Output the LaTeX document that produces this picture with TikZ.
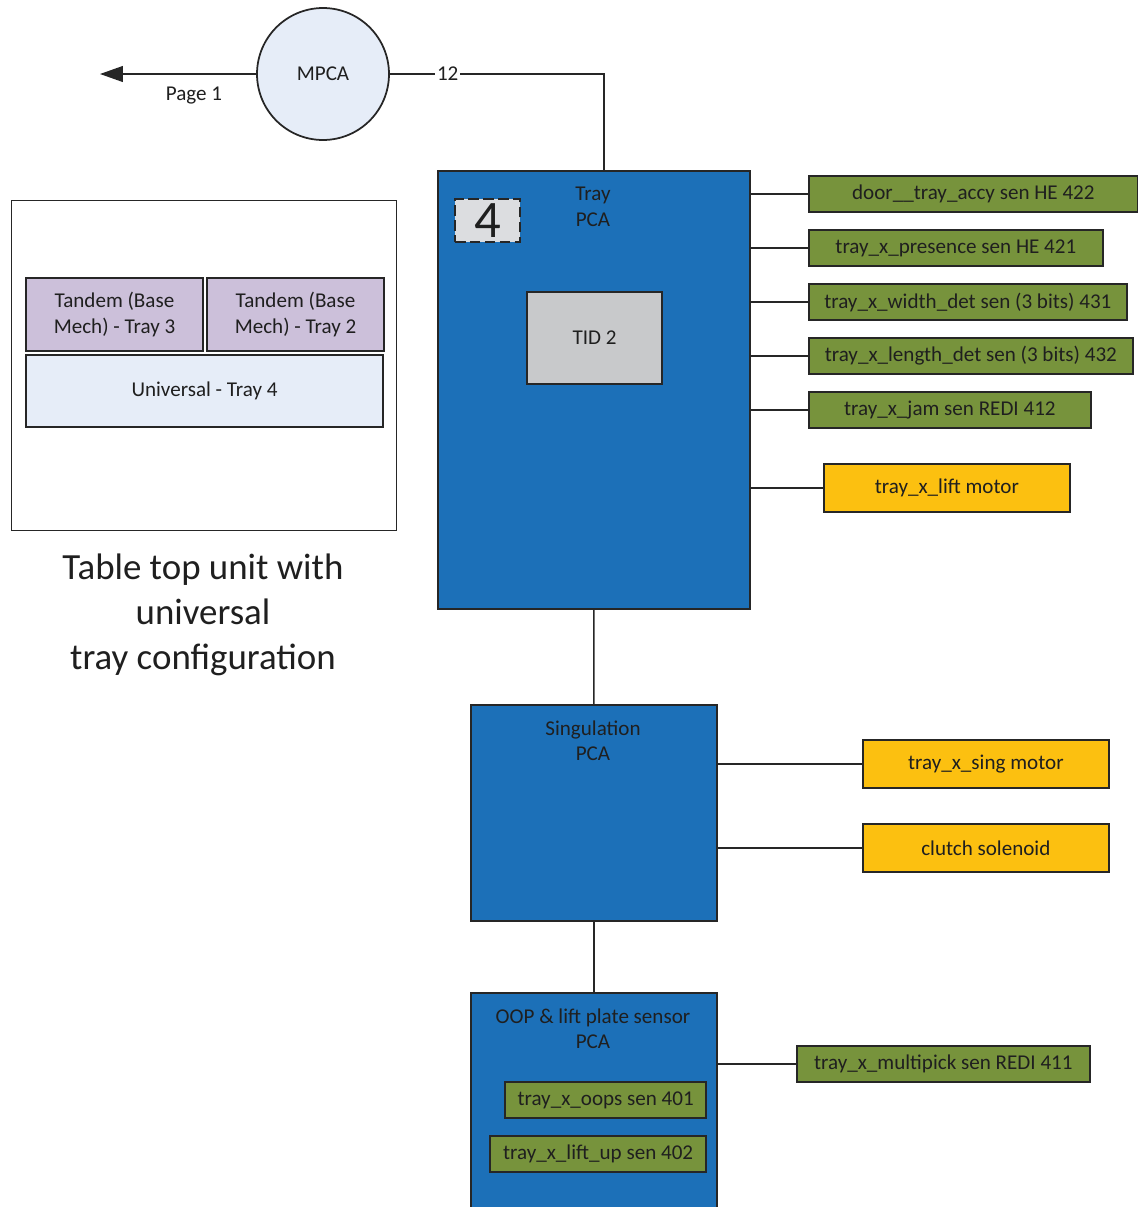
\documentclass[tikz,border=0pt]{standalone}
\usepackage{fontspec}
\setmainfont{Carlito}
\usepackage{tikz}
\usetikzlibrary{arrows.meta,positioning}

\definecolor{edge}{HTML}{262626}
\definecolor{ink}{HTML}{1F1F1F}
\definecolor{pcablue}{HTML}{1C70B8}
\definecolor{sengreen}{HTML}{77933C}
\definecolor{actyellow}{HTML}{FCC010}
\definecolor{lightblue}{HTML}{E6EDF8}
\definecolor{traypurple}{HTML}{CCC0DA}
\definecolor{tidgray}{HTML}{C8C9CB}
\definecolor{dashgray}{HTML}{DCDDE0}

\begin{document}
\begin{tikzpicture}[x=0.02cm,y=-0.02cm,
  box/.style={draw=edge,line width=1pt,inner sep=0pt},
  txt/.style={text=ink,font=\fontsize{12}{14.5}\selectfont,align=center},
  pca/.style={box,fill=pcablue,anchor=north west},
  sensor/.style={box,txt,fill=sengreen,minimum height=0.72cm,anchor=west},
  actor/.style={box,txt,fill=actyellow,minimum height=0.96cm,anchor=west},
  wire/.style={draw=edge,line width=0.8pt}]
\clip (0,0) rectangle (1138,1207);

% Boards
\node[pca,minimum width=6.24cm,minimum height=8.76cm] (tray) at (437,170) {};
\node[txt] (traylbl) at (593,207) {Tray\\PCA};
\node[box,dashed,dash pattern=on 6pt off 2.5pt,fill=dashgray,minimum width=1.3cm,minimum height=0.86cm,
  text=ink,font=\fontsize{30}{30}\selectfont] (num) at (487.5,220.5) {4};
\node[box,txt,fill=tidgray,minimum width=2.7cm,minimum height=1.84cm] (tid) at (594.5,338) {TID 2};

\node[pca,minimum width=4.92cm,minimum height=4.32cm] (sing) at (470,704) {};
\node[txt] (singlbl) at (593,741) {Singulation\\PCA};

\node[pca,minimum width=4.92cm,minimum height=4.8cm] (oop) at (470,992) {};
\node[txt] (ooplbl) at (593,1029) {OOP \& lift plate sensor\\PCA};
\node[sensor,anchor=east,minimum width=4.02cm] (oops) at (707,1100) {tray\_x\_oops sen 401};
\node[sensor,anchor=east,minimum width=4.32cm] (liftup) at (707,1154) {tray\_x\_lift\_up sen 402};

% MPCA
\node[box,txt,circle,fill=lightblue,minimum size=2.64cm] (mpca) at (323,74) {MPCA};
\coordinate (page) at (100,74);
\draw[wire,-{Triangle[length=13pt,width=9pt]}] (mpca.west) -- (page);
\node[txt] (pagelbl) at (194,96) {Page 1};
\coordinate (bend) at (604,74);
\draw[wire] (mpca.east) -- node[pos=0.27,fill=white,inner sep=1pt,txt] (bus) {12} (bend) -- (bend |- tray.north);

% Tray sensors and motor
\node[sensor,minimum width=6.58cm] (door) at (808,194) {door\_\_tray\_accy sen HE 422};
\node[sensor,minimum width=5.88cm] (presence) at (808,248) {tray\_x\_presence sen HE 421};
\node[sensor,minimum width=6.36cm] (width) at (808,302) {tray\_x\_width\_det sen (3 bits) 431};
\node[sensor,minimum width=6.48cm] (length) at (808,356) {tray\_x\_length\_det sen (3 bits) 432};
\node[sensor,minimum width=5.64cm] (jam) at (808,410) {tray\_x\_jam sen REDI 412};
\node[actor,minimum width=4.92cm] (lift) at (823,488) {tray\_x\_lift motor};
\foreach \s in {door,presence,width,length,jam,lift}
  \draw[wire] (tray.east |- \s.west) -- (\s.west);

% Singulation outputs
\node[actor,minimum width=4.92cm] (singmotor) at (862,764) {tray\_x\_sing motor};
\node[actor,minimum width=4.92cm] (clutch) at (862,848) {clutch solenoid};
\draw[wire] (sing.east |- singmotor.west) -- (singmotor.west);
\draw[wire] (sing.east |- clutch.west) -- (clutch.west);

% OOP output
\node[sensor,minimum width=5.86cm] (multipick) at (796,1064) {tray\_x\_multipick sen REDI 411};
\draw[wire] (oop.east |- multipick.west) -- (multipick.west);

% Chain
\draw[wire] (tray.south) -- (sing.north);
\draw[wire] (sing.south) -- (oop.north);

% Table top unit
\node[box,line width=0.8pt,anchor=north west,minimum width=7.7cm,minimum height=6.6cm] (unit) at (11,200) {};
\node[box,txt,fill=traypurple,minimum width=3.54cm,minimum height=1.46cm] (tray3) at (114.5,314.5) {Tandem (Base\\Mech) - Tray 3};
\node[box,txt,fill=traypurple,minimum width=3.54cm,minimum height=1.46cm] (tray2) at (295.5,314.5) {Tandem (Base\\Mech) - Tray 2};
\node[box,txt,fill=lightblue,minimum width=7.14cm,minimum height=1.44cm] (tray4) at (204.5,391) {Universal - Tray 4};
\node[text=ink,align=center,font=\fontsize{21}{25.5}\selectfont] (caption) at (203,615) {Table top unit with\\universal\\tray configuration};
\end{tikzpicture}
\end{document}
